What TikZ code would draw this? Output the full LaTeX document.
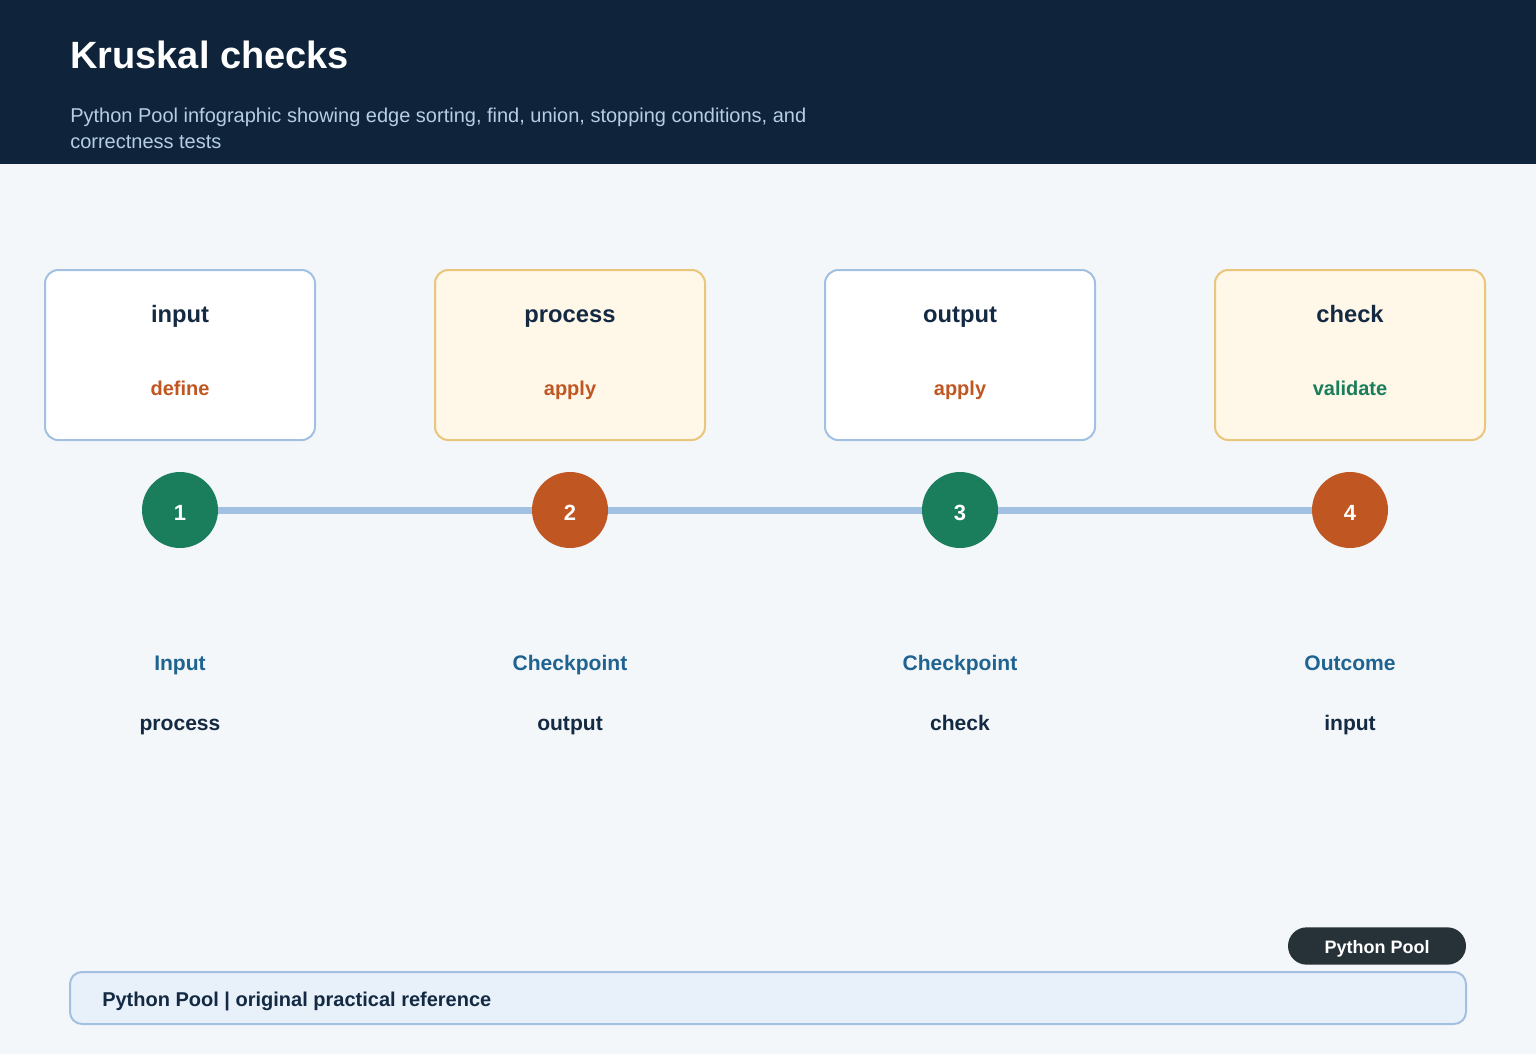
\documentclass[tikz,border=0pt]{standalone}
\usepackage{fontspec}
\setmainfont{Liberation Sans}
\definecolor{navy}{HTML}{0F243A}
\definecolor{paper}{HTML}{F4F7FA}
\definecolor{subblue}{HTML}{B6CDE6}
\definecolor{edgeblue}{HTML}{A2C1E2}
\definecolor{creamfill}{HTML}{FFF7E8}
\definecolor{creamedge}{HTML}{E9C67C}
\definecolor{stepgreen}{HTML}{1A7D5B}
\definecolor{steporange}{HTML}{C05621}
\definecolor{linkblue}{HTML}{1F6391}
\definecolor{inkdark}{HTML}{132A42}
\definecolor{badgegray}{HTML}{263238}
\definecolor{footfill}{HTML}{E8F0FA}
\tikzset{
	card/.style={draw=edgeblue, fill=white, line width=1.5pt, rounded corners=10pt, minimum width=202.5pt, minimum height=127.5pt},
	warmcard/.style={card, draw=creamedge, fill=creamfill},
	cardtitle/.style={anchor=base, inner sep=0pt, font=\fontsize{17.8}{20}\selectfont\bfseries, text=inkdark},
	cardnote/.style={anchor=base, inner sep=0pt, font=\fontsize{15}{18}\selectfont\bfseries},
	stepdot/.style={circle, minimum size=57pt, inner sep=0pt, fill=#1},
	dotnum/.style={anchor=base, inner sep=0pt, text=white, font=\fontsize{16.5}{19}\selectfont\bfseries},
	tagline/.style={anchor=base, inner sep=0pt, font=\fontsize{15.8}{19}\selectfont\bfseries, text=linkblue},
	tagword/.style={anchor=base, inner sep=0pt, font=\fontsize{15.8}{19}\selectfont\bfseries, text=inkdark},
	subline/.style={anchor=base west, inner sep=0pt, text=subblue, font=\fontsize{15}{18}\selectfont}
}
\begin{document}
\begin{tikzpicture}[x=0.75pt, y=-0.75pt]
			\useasboundingbox (0,0) rectangle (1536,1054);
			\fill[paper] (0,0) rectangle (1536,1054);
			\fill[navy] (0,0) rectangle (1536,164);
			\node[anchor=base west, inner sep=0pt, text=white, font=\fontsize{28.5}{32}\selectfont\bfseries] (title) at (70,68) {Kruskal checks};
			\node[subline] (subtitle) at (70,122) {Python Pool infographic showing edge sorting, find, union, stopping conditions, and};
			\node[subline] (subtitlemore) at (70,148) {correctness tests};

			\node[card] (box1) at (180,355) {};
			\node[warmcard] (box2) at (570,355) {};
			\node[card] (box3) at (960,355) {};
			\node[warmcard] (box4) at (1350,355) {};
			\node[cardtitle] (head1) at (180,322) {input};
			\node[cardtitle] (head2) at (570,322) {process};
			\node[cardtitle] (head3) at (960,322) {output};
			\node[cardtitle] (head4) at (1350,322) {check};
			\node[cardnote, text=steporange] (note1) at (180,395) {define};
			\node[cardnote, text=steporange] (note2) at (570,395) {apply};
			\node[cardnote, text=steporange] (note3) at (960,395) {apply};
			\node[cardnote, text=stepgreen] (note4) at (1350,395) {validate};

			\node[stepdot=stepgreen] (dot1) at (180,510) {};
			\node[stepdot=steporange] (dot2) at (570,510) {};
			\node[stepdot=stepgreen] (dot3) at (960,510) {};
			\node[stepdot=steporange] (dot4) at (1350,510) {};
			\node[dotnum] (num1) at (180,520) {1};
			\node[dotnum] (num2) at (570,520) {2};
			\node[dotnum] (num3) at (960,520) {3};
			\node[dotnum] (num4) at (1350,520) {4};
			\draw[edgeblue, line width=5.25pt] (dot1) -- (dot2);
			\draw[edgeblue, line width=5.25pt] (dot2) -- (dot3);
			\draw[edgeblue, line width=5.25pt] (dot3) -- (dot4);

			\node[tagline] (kind1) at (180,670) {Input};
			\node[tagline] (kind2) at (570,670) {Checkpoint};
			\node[tagline] (kind3) at (960,670) {Checkpoint};
			\node[tagline] (kind4) at (1350,670) {Outcome};
			\node[tagword] (word1) at (180,730) {process};
			\node[tagword] (word2) at (570,730) {output};
			\node[tagword] (word3) at (960,730) {check};
			\node[tagword] (word4) at (1350,730) {input};

			\node[fill=badgegray, rounded corners=14pt, minimum width=133.5pt, minimum height=28pt] (badge) at (1377,946) {};
			\node[anchor=base, inner sep=0pt, text=white, font=\fontsize{13.5}{16}\selectfont\bfseries] (badgetext) at (1377,953) {Python Pool};
			\node[draw=edgeblue, fill=footfill, line width=1.5pt, rounded corners=9pt, minimum width=1047pt, minimum height=39pt] (footer) at (768,998) {};
			\node[anchor=base west, text=inkdark, font=\fontsize{15}{18}\selectfont\bfseries, inner sep=0pt] (footnote) at (102,1006) {Python Pool | original practical reference};
		\end{tikzpicture}
\end{document}
